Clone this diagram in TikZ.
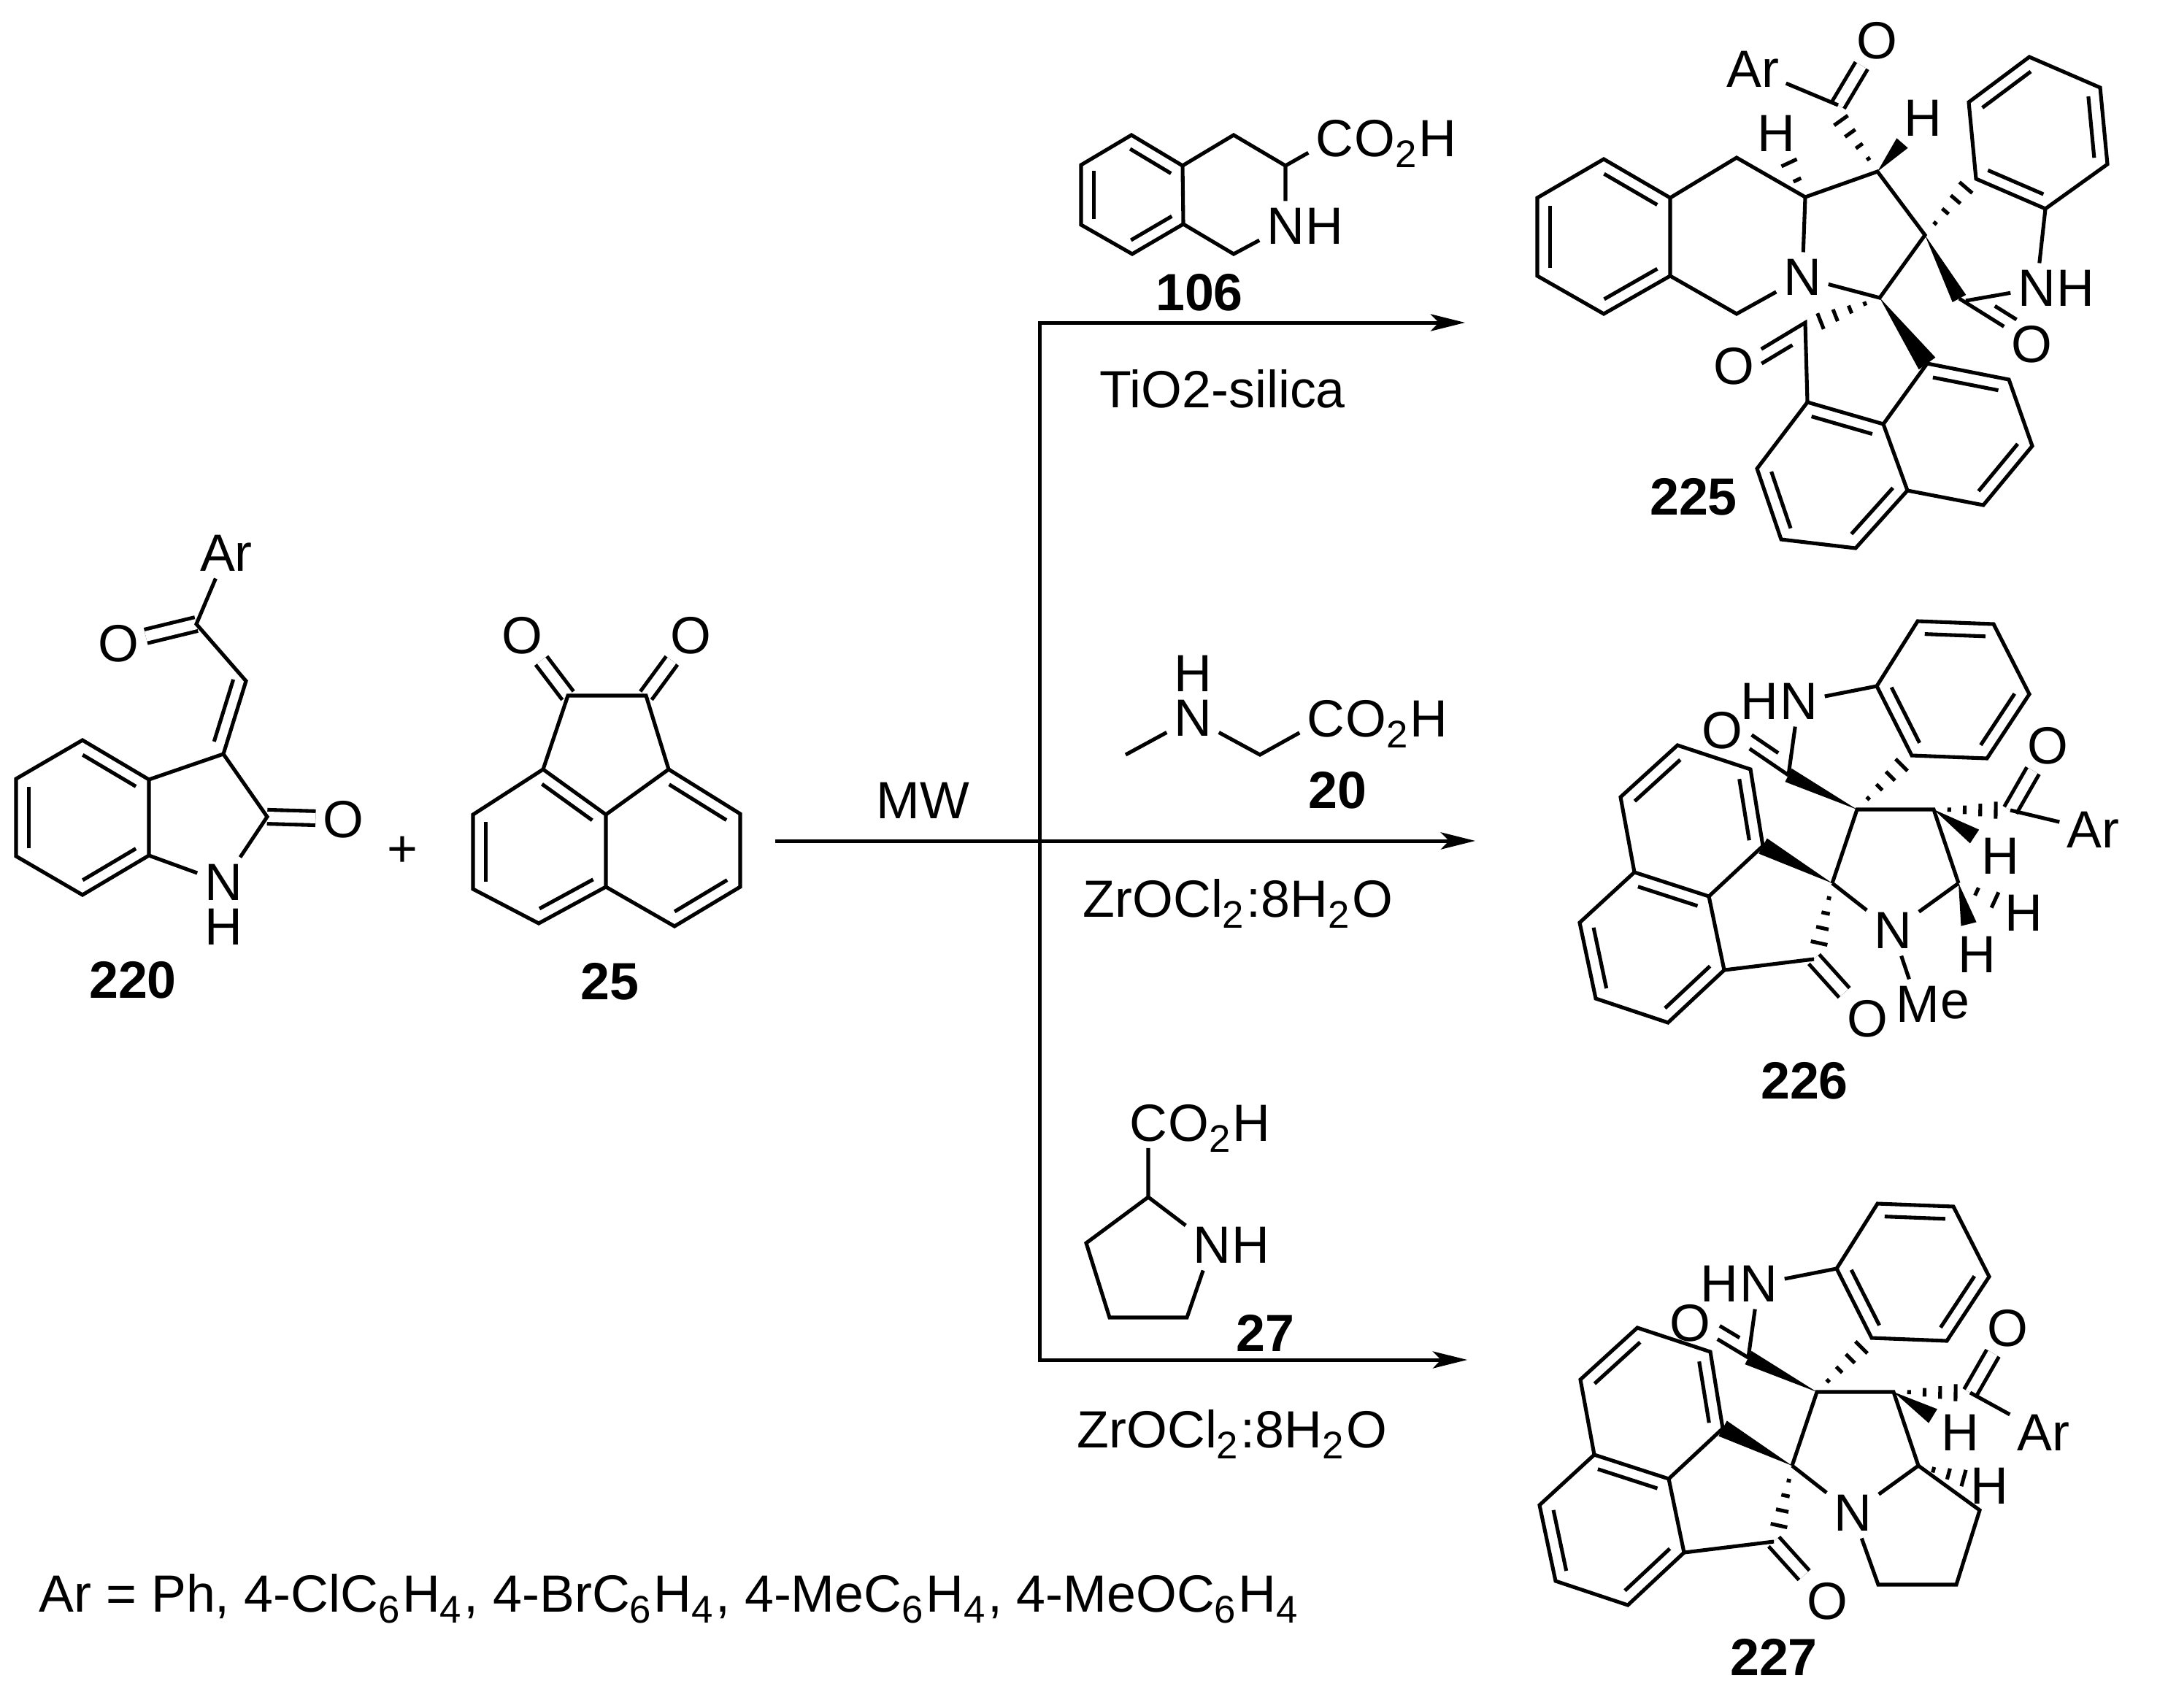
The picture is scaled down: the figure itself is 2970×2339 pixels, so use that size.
\documentclass[tikz,border=0pt]{standalone}
\usepackage{fontspec}
\setmainfont{Liberation Sans}
\usetikzlibrary{arrows.meta, positioning, calc}
\newcommand{\atomfont}{\fontsize{20.4}{24}\selectfont}
\newcommand{\subs}[1]{\raisebox{-4.3pt}{\fontsize{15}{15}\selectfont #1}\kern1pt}
\def\dd{4.9pt}
\tikzset{
  bond/.style={line width=1.45pt},
  dbond/.style={line width=1.45pt, double, double distance=4pt},
  rxn/.style={line width=1.42pt, {Stealth[length=13.4pt,width=6.6pt,inset=3.2pt]}-{Stealth[length=13.4pt,width=6.6pt,inset=3.2pt]}},
  rxnend/.style={line width=1.42pt, -{Stealth[length=13.4pt,width=6.6pt,inset=3.2pt]}},
  atom/.style={font=\atomfont, inner sep=2.6pt, text depth=0pt},
  lone/.style={font=\atomfont, inner sep=0pt, text depth=0pt},
  cmpd/.style={font=\atomfont\bfseries, inner sep=0pt},
  note/.style={font=\atomfont, inner sep=0pt, anchor=base west}
}
% inner line of a double bond: from, to (fractions), side
\newcommand{\dblat}[5]{\draw[bond] ($(#1)!#3!(#2)!\dd!#5:(#2)$) -- ($(#1)!#4!(#2)!\dd!#5:(#2)$);}
\newcommand{\dblin}[2]{\dblat{#1}{#2}{.1}{.9}{-90}}
\newcommand{\wedgeb}[3]{\fill (#1) -- ($(#2)!#3!90:(#1)$) -- ($(#2)!#3!-90:(#1)$) -- cycle;}
\newcommand{\hashb}[3]{\foreach \i in {1,...,#3}{
    \pgfmathsetmacro{\fr}{\i/#3}\pgfmathsetmacro{\hw}{3.3*\fr}
    \coordinate (hp) at ($(#1)!\fr!(#2)$);
    \draw[bond] ($(hp)!\hw pt!90:(#1)$) -- ($(hp)!\hw pt!-90:(#1)$);}}
\begin{document}
\begin{tikzpicture}[x=0.01cm, y=-0.01cm]
  \useasboundingbox (0,0) rectangle (2970,2339);

  % 220
  \foreach \n/\px/\py in {a1/113/1014, a2/204/1068, a3/204/1172, a4/113/1226, a5/22/1173, a6/22/1067,
      ac3/306/1033, ac2/366/1119, ax/337/933, ac/269/855}
    \coordinate (\n) at (\px,\py);
  \node[atom] (aN) at (306,1209) {N};
  \node[lone] (aH) at (306,1270) {H};
  \node[atom] (aO) at (470,1122) {O};
  \node[atom] (aO2) at (162,881) {O};
  \node[atom] (aAr) at (310,758) {Ar};
  \draw[dbond] (ac2) -- (aO);
  \draw[dbond] (ac) -- (aO2);
  \draw[bond] (a1) -- (a2) -- (a3) -- (a4) -- (a5) -- (a6) -- cycle;
  \dblin{a1}{a2} \dblin{a3}{a4} \dblin{a5}{a6}
  \draw[bond] (a2) -- (ac3) -- (ac2) -- (aN) -- (a3);
  \draw[bond] (ac3) -- (ax) -- (ac) -- (aAr);
  \dblat{ac3}{ax}{.12}{.97}{90}
  \node[cmpd] (l220) at (182,1343) {220};
  \node[atom] (plus) at (551,1167) {+};

  % 25
  \foreach \n/\px/\py in {k1/778/953, k2/885/953, k3/744/1054, k4/916/1054, k5/830/1116, k6/830/1215,
      k7/648/1116, k8/648/1218, k9/738/1265, k10/1014/1115, k11/1014/1215, k12/924/1269}
    \coordinate (\n) at (\px,\py);
  \node[atom] (kO1) at (715,870) {O};
  \node[atom] (kO2) at (946,870) {O};
  \draw[dbond] (k1) -- (kO1);
  \draw[dbond] (k2) -- (kO2);
  \draw[bond] (k3) -- (k1) -- (k2) -- (k4);
  \draw[bond] (k7) -- (k3) -- (k5) -- (k6) -- (k9) -- (k8) -- cycle;
  \draw[bond] (k5) -- (k4) -- (k10) -- (k11) -- (k12) -- (k6);
  \dblin{k3}{k5} \dblin{k8}{k7} \dblin{k6}{k9} \dblin{k4}{k10} \dblin{k11}{k12}
  \node[cmpd] (l25) at (835,1345) {25};

  % arrows
  \coordinate (vtop) at (1424,442);
  \coordinate (vbot) at (1424,1863);
  \coordinate (tip1) at (2007,442);
  \coordinate (tip3) at (2010,1863);
  \coordinate (mwst) at (1062,1152);
  \coordinate (tip2) at (2021,1152);
  \draw[rxn] (tip3) -- (vbot) -- (vtop) -- (tip1);
  \draw[rxnend] (mwst) -- (tip2);
  \node[atom] (mw) at (1264,1097) {MW};

  % 106
  \foreach \n/\px/\py in {g1/1550/185, g2/1620/227, g3/1621/307, g4/1551/348, g5/1481/308, g6/1481/226,
      g7/1690/185, g8/1761/227, g9/1690/348}
    \coordinate (\n) at (\px,\py);
  \node[atom] (gC) at (1828,189) {C};
  \node[atom, right=-5.2pt of gC] (gCr) {O\subs{2}H};
  \node[atom] (gN) at (1761,310) {N};
  \node[atom, right=-5.2pt of gN] (gH) {H};
  \draw[bond] (g1) -- (g2) -- (g3) -- (g4) -- (g5) -- (g6) -- cycle;
  \dblin{g1}{g2} \dblin{g3}{g4} \dblin{g5}{g6}
  \draw[bond] (g2) -- (g7) -- (g8) -- (gC);
  \draw[bond] (g8) -- (gN) -- (g9) -- (g3);
  \node[cmpd] (l106) at (1643,401) {106};
  \node[note] (tio) at (1506,558) {TiO2-silica};

  % 20
  \coordinate (s1) at (1542,1034);
  \coordinate (s2) at (1726,1034);
  \node[atom] (sN) at (1634,984) {N};
  \node[lone] (sH) at (1634,923) {H};
  \node[atom] (sC) at (1816,984) {C};
  \node[atom, right=-5.2pt of sC] (sCr) {O\subs{2}H};
  \draw[bond] (s1) -- (sN) -- (s2) -- (sC);
  \node[cmpd] (l20) at (1832,1083) {20};
  \node[note] (zr1) at (1483,1256) {ZrOCl\subs{2}:8H\subs{2}O};

  % 27
  \foreach \n/\px/\py in {t1/1573/1640, t2/1488/1703, t3/1520/1805, t4/1626/1805}
    \coordinate (\n) at (\px,\py);
  \node[atom] (tC) at (1573,1538) {C};
  \node[atom, right=-5.2pt of tC] (tCr) {O\subs{2}H};
  \node[atom] (tN) at (1660,1706) {N};
  \node[atom, right=-5.2pt of tN] (tH) {H};
  \draw[bond] (tC) -- (t1) -- (tN) -- (t4) -- (t3) -- (t2) -- (t1);
  \node[cmpd] (l27) at (1733,1826) {27};
  \node[note] (zr2) at (1475,1983) {ZrOCl\subs{2}:8H\subs{2}O};

  % 225
  \foreach \n/\px/\py in {b1/2197/218, b2/2288/271, b3/2288/378, b4/2197/430, b5/2106/378, b6/2106/271,
      c1/2379/216, c2/2473/270, c3/2379/430, c4/2572/235, c5/2637/322, c6/2575/408,
      co1/2518/144, co2/2684/409, co3/2693/412, co4/2473/442,
      r1/2707/245, r2/2697/140, r3/2780/78, r4/2877/120, r5/2887/225, r6/2802/286,
      n1/2640/498, n2/2752/520, n3/2784/611, n4/2717/692, n5/2613/672, n6/2580/581,
      n7/2476/551, n8/2407/642, n9/2440/739, n10/2542/751,
      hw1/2606/196, hh1/2451/223, hh2/2522/165, hh3/2693/257, hh4/2494/440}
    \coordinate (\n) at (\px,\py);
  \node[atom] (cN) at (2469,380) {N};
  \node[atom] (cAr) at (2401,95) {Ar};
  \node[atom] (cO1) at (2571,55) {O};
  \node[atom] (cH1) at (2634,162) {H};
  \node[atom] (cH2) at (2433,183) {H};
  \node[atom] (rN) at (2790,395) {N};
  \node[atom, right=-5.2pt of rN] (rH) {H};
  \node[atom] (cO2) at (2783,471) {O};
  \node[atom] (cO3) at (2375,501) {O};
  \draw[dbond] (co1) -- (cO1);
  \draw[bond] (b1) -- (b2) -- (b3) -- (b4) -- (b5) -- (b6) -- cycle;
  \dblin{b1}{b2} \dblin{b3}{b4} \dblin{b5}{b6}
  \draw[bond] (b2) -- (c1) -- (c2) -- (cN) -- (c3) -- (b3);
  \draw[bond] (c2) -- (c4) -- (c5) -- (c6) -- (cN);
  \draw[bond] (cAr) -- (co1);
  \draw[bond] (r1) -- (r2) -- (r3) -- (r4) -- (r5) -- (r6) -- cycle;
  \dblin{r2}{r3} \dblin{r4}{r5} \dblin{r6}{r1}
  \draw[bond] (r6) -- (rN) -- (co3);
  \draw[bond] (co2) -- (cO2);
  \dblat{co2}{cO2}{.4}{.7}{90}
  \draw[bond] (n1) -- (n2) -- (n3) -- (n4) -- (n5) -- (n6) -- cycle;
  \draw[bond] (n6) -- (n7) -- (n8) -- (n9) -- (n10) -- (n5);
  \dblin{n1}{n2} \dblin{n3}{n4} \dblin{n5}{n10} \dblin{n9}{n8} \dblin{n7}{n6}
  \draw[bond] (n7) -- (co4) -- (cO3);
  \dblat{co4}{cO3}{.27}{.7}{90}
  \wedgeb{c4}{hw1}{2.9pt}
  \wedgeb{c5}{co2}{3pt}
  \wedgeb{c6}{n1}{4pt}
  \hashb{c2}{hh1}{2}
  \hashb{c4}{hh2}{4}
  \hashb{c5}{hh3}{4}
  \hashb{c6}{hh4}{4}
  \node[cmpd] (l225) at (2320,681) {225};

  % 226 and 227 share the spiro core
  \foreach \n/\px/\py in {p1/2571/940, p2/2627/851, p3/2731/855, p4/2780/951, p5/2722/1039, p6/2619/1035,
      m1/2398/1054, m2/2298/1021, m3/2220/1092, m4/2239/1195, m5/2341/1228, m6/2415/1159,
      m7/2362/1329, m8/2285/1401, m9/2186/1368, m10/2164/1264,
      q1/2544/1109, q2/2649/1109, q3/2683/1210, q4/2510/1210,
      cx/2450/1062, ck/2485/1314, cr/2754/1110, at/2593/1275, hn/2464/961, ot/2805/1021, ok/2558/1395,
      e1/2605/1048, e2/2734/1110, e3/2492/1292}
    \foreach \m/\dx/\dy in {u/0/0, v/-55/798}
      \coordinate (\m\n) at ({\px+\dx},{\py+\dy});
  \foreach \m in {u,v} {
    \node[atom] (\m aN) at (\m at) {N};
    \node[atom] (\m hN) at (\m hn) {N};
    \node[atom, left=-5.2pt of \m hN] (\m hH) {H};
    \node[atom] (\m oR) at (\m ot) {O};
    \node[atom] (\m oK) at (\m ok) {O};
    \draw[dbond] (\m cr) -- (\m oR);
    \draw[dbond] (\m ck) -- (\m oK);
    \draw[bond] (\m p1) -- (\m p2) -- (\m p3) -- (\m p4) -- (\m p5) -- (\m p6) -- cycle;
    \dblin{\m p2}{\m p3} \dblin{\m p4}{\m p5} \dblin{\m p6}{\m p1}
    \draw[bond] (\m m1) -- (\m m2) -- (\m m3) -- (\m m4) -- (\m m5) -- (\m m6) -- cycle;
    \draw[bond] (\m m5) -- (\m m7) -- (\m m8) -- (\m m9) -- (\m m10) -- (\m m4);
    \dblin{\m m3}{\m m2} \dblin{\m m1}{\m m6} \dblin{\m m4}{\m m5} \dblin{\m m7}{\m m8} \dblin{\m m9}{\m m10}
    \draw[bond] (\m m7) -- (\m ck);
    \draw[bond] (\m p1) -- (\m hN) -- (\m cx);
    \draw[bond] (\m q4) -- (\m q1) -- (\m q2) -- (\m q3);
    \draw[bond] (\m q4) -- (\m aN) -- (\m q3);
    \wedgeb{\m q1}{\m cx}{2.9pt}
    \wedgeb{\m q4}{\m m6}{3.4pt}
    \hashb{\m q1}{\m e1}{4}
    \hashb{\m q2}{\m e2}{4}
    \hashb{\m q4}{\m e3}{4}
  }

  % 226 only
  \foreach \n/\px/\py in {uw1/2705/1146, uw2/2697/1266, ue4/2733/1233}
    \coordinate (\n) at (\px,\py);
  \node[atom] (uO) at (2359,1000) {O};
  \node[atom] (uAr) at (2867,1137) {Ar};
  \node[atom] (uH1) at (2740,1173) {H};
  \node[atom] (uH2) at (2772,1251) {H};
  \node[atom] (uH3) at (2708,1308) {H};
  \node[atom] (uM) at (2627,1376) {M};
  \node[atom, right=-5.2pt of uM] (ue) {e};
  \draw[bond] (ucx) -- (uO);
  \dblat{ucx}{uO}{.26}{.66}{-90}
  \draw[bond] (ucr) -- (uAr);
  \draw[bond] (uaN) -- (uM);
  \wedgeb{uq2}{uw1}{3.2pt}
  \wedgeb{uq3}{uw2}{3.1pt}
  \hashb{uq3}{ue4}{2}
  \node[cmpd] (l226) at (2472,1481) {226};

  % 227 only
  \foreach \n/\px/\py in {vw1/2648/1940, ve4/2690/2025, y1/2712/2069, y2/2680/2171, y3/2573/2171}
    \coordinate (\n) at (\px,\py);
  \node[atom] (vO) at (2315,1812) {O};
  \node[atom] (vAr) at (2799,1963) {Ar};
  \node[atom] (vH1) at (2685,1963) {H};
  \node[atom] (vH2) at (2725,2036) {H};
  \draw[bond] (vcx) -- (vO);
  \dblat{vcx}{vO}{.26}{.6}{-90}
  \draw[bond] (vcr) -- (vAr);
  \draw[bond] (vq3) -- (y1) -- (y2) -- (y3) -- (vaN);
  \wedgeb{vq2}{vw1}{3.2pt}
  \hashb{vq3}{ve4}{3}
  \node[cmpd] (l227) at (2430,2270) {227};

  \node[note] (arlist) at (53,2208) {Ar = Ph, 4-ClC\subs{6}H\subs{4}, 4-BrC\subs{6}H\subs{4}, 4-MeC\subs{6}H\subs{4}, 4-MeOC\subs{6}H\subs{4}};
\end{tikzpicture}
\end{document}
